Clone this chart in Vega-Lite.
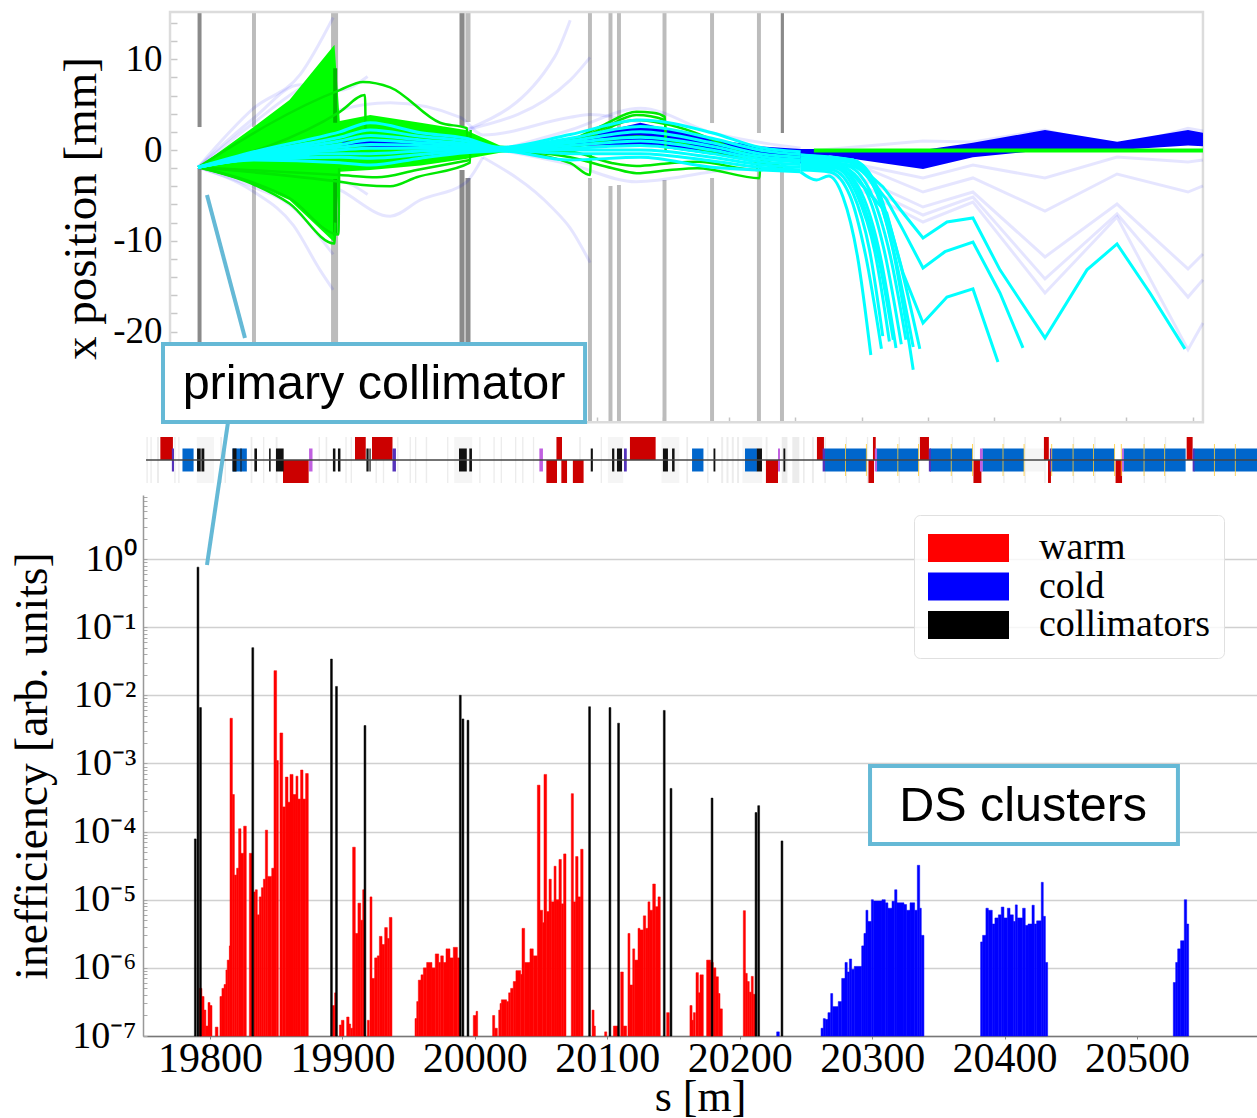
{"$schema":"https://vega.github.io/schema/vega-lite/v6.json","background":"white","padding":{"left":10,"top":3,"right":0,"bottom":0},"config":{"view":{"stroke":null}},"bounds":"flush","spacing":0,
"datasets":{
"jawL":[{"a":19831.7,"b":19834.7,"y":15.2,"y2":2.53},{"a":19831.7,"b":19834.7,"y":-2.42,"y2":-30},{"a":19891.4,"b":19896.7,"y":15.2,"y2":2.75},{"a":19891.4,"b":19896.7,"y":-3.08,"y2":-30},{"a":19992.9,"b":19996.7,"y":15.2,"y2":3.08},{"a":20085.4,"b":20088.4,"y":15.2,"y2":1.98},{"a":20085.4,"b":20088.4,"y":-3.08,"y2":-30},{"a":20100.9,"b":20103.9,"y":15.2,"y2":0.44},{"a":20100.9,"b":20103.9,"y":-3.96,"y2":-30},{"a":20107.3,"b":20110.3,"y":15.2,"y2":0.44},{"a":20107.3,"b":20110.3,"y":-3.85,"y2":-30},{"a":20141.7,"b":20144.7,"y":15.2,"y2":2.75},{"a":20141.7,"b":20144.7,"y":-3.3,"y2":-30},{"a":20177.6,"b":20180.6,"y":15.2,"y2":2.97},{"a":20177.6,"b":20180.6,"y":-3.08,"y2":-30},{"a":20213,"b":20216,"y":15.2,"y2":1.87},{"a":20213,"b":20216,"y":-2.2,"y2":-30},{"a":20230.4,"b":20233.4,"y":-2.2,"y2":-30}],
"jawD":[{"a":19790.6,"b":19793.6,"y":15.2,"y2":2.53},{"a":19790.6,"b":19793.6,"y":-1.98,"y2":-30},{"a":19988.4,"b":19992.2,"y":15.2,"y2":2.64},{"a":19988.4,"b":19992.2,"y":-2.2,"y2":-30},{"a":19992.9,"b":19996.7,"y":-3.08,"y2":-30},{"a":20231,"b":20233.4,"y":15.2,"y2":1.87}],
"ghost":[
{"id":"g1","s":19791,"x":-1.9},{"id":"g1","s":19833,"x":4.6},{"id":"g1","s":19868,"x":8.3},{"id":"g1","s":19893,"x":14.6},
{"id":"g2","s":19791,"x":-1.9},{"id":"g2","s":19833,"x":-4.6},{"id":"g2","s":19863,"x":-8.3},{"id":"g2","s":19883,"x":-13.2},{"id":"g2","s":19893,"x":-15.4},
{"id":"g3","s":19791,"x":-1.9},{"id":"g3","s":19833,"x":3.5},{"id":"g3","s":19868,"x":7.2},{"id":"g3","s":19898,"x":6.6},{"id":"g3","s":19919,"x":8.1},
{"id":"g3b","s":19791,"x":-1.9},{"id":"g3b","s":19833,"x":-3.3},{"id":"g3b","s":19860,"x":-4.5},{"id":"g3b","s":19898,"x":-3.5},{"id":"g3b","s":19919,"x":-4.9},
{"id":"g3c","s":19791,"x":-1.9},{"id":"g3c","s":19833,"x":3},{"id":"g3c","s":19860,"x":6},{"id":"g3c","s":19893,"x":9},
{"id":"g3d","s":19791,"x":-1.9},{"id":"g3d","s":19833,"x":-4.1},{"id":"g3d","s":19860,"x":-6},{"id":"g3d","s":19893,"x":-11.5},
{"id":"g4","s":19791,"x":-1.9},{"id":"g4","s":19860,"x":2},{"id":"g4","s":19898,"x":4.4},{"id":"g4","s":19936,"x":5.2},{"id":"g4","s":19989,"x":3.6},{"id":"g4","s":20006,"x":1.65},{"id":"g4","s":20072,"x":3.6},{"id":"g4","s":20087,"x":3.9},{"id":"g4","s":20125,"x":3},
{"id":"g5","s":19791,"x":-1.9},{"id":"g5","s":19860,"x":-2},{"id":"g5","s":19898,"x":-4.4},{"id":"g5","s":19936,"x":-7.3},{"id":"g5","s":19959,"x":-5.5},{"id":"g5","s":19993,"x":-3.6},{"id":"g5","s":20006,"x":-0.8},
{"id":"g6","s":20006,"x":-0.8},{"id":"g6","s":20058,"x":-6.3},{"id":"g6","s":20072,"x":-8.6},{"id":"g6","s":20087,"x":-12.4},
{"id":"g7","s":19993,"x":2.2},{"id":"g7","s":20060,"x":10.2},{"id":"g7","s":20072,"x":14.3},
{"id":"g7b","s":19993,"x":2.2},{"id":"g7b","s":20072,"x":7.7},{"id":"g7b","s":20087,"x":10.2},
{"id":"g8","s":20019,"x":0},{"id":"g8","s":20072,"x":2.2},{"id":"g8","s":20125,"x":4.6},{"id":"g8","s":20179,"x":1.9},{"id":"g8","s":20246,"x":0.2},
{"id":"g9","s":20019,"x":0},{"id":"g9","s":20072,"x":-1.6},{"id":"g9","s":20122,"x":-3.5},{"id":"g9","s":20179,"x":-2.4},{"id":"g9","s":20246,"x":-1.1}],
"ghostR":[
{"id":"r1","s":20246,"x":-0.55},{"id":"r1","s":20291,"x":-1.65},{"id":"r1","s":20338.4,"x":-3.08},{"id":"r1","s":20376.1,"x":-1.65},{"id":"r1","s":20430.5,"x":-3.08},{"id":"r1","s":20484.9,"x":-0.77},{"id":"r1","s":20538.5,"x":-1.32},{"id":"r1","s":20549.8,"x":-1.1},
{"id":"r2","s":20246,"x":-0.55},{"id":"r2","s":20298,"x":-2.2},{"id":"r2","s":20338.4,"x":-4.63},{"id":"r2","s":20376.1,"x":-3.08},{"id":"r2","s":20430.5,"x":-6.72},{"id":"r2","s":20484.9,"x":-2.64},{"id":"r2","s":20538.5,"x":-4.63},{"id":"r2","s":20549.8,"x":-3.96},
{"id":"r3","s":20246,"x":-0.6},{"id":"r3","s":20291,"x":-3.1},{"id":"r3","s":20338.4,"x":-6.28},{"id":"r3","s":20376.1,"x":-4.63},{"id":"r3","s":20430.5,"x":-11.78},{"id":"r3","s":20484.9,"x":-5.95},{"id":"r3","s":20538.5,"x":-13.1},{"id":"r3","s":20549.8,"x":-11.45},
{"id":"r4","s":20246,"x":-0.7},{"id":"r4","s":20291,"x":-3.85},{"id":"r4","s":20338.4,"x":-7.16},{"id":"r4","s":20376.1,"x":-5.18},{"id":"r4","s":20430.5,"x":-14.2},{"id":"r4","s":20484.9,"x":-7.05},{"id":"r4","s":20538.5,"x":-16.2},{"id":"r4","s":20549.8,"x":-14.3},
{"id":"r5","s":20246,"x":-0.8},{"id":"r5","s":20291,"x":-4.4},{"id":"r5","s":20338.4,"x":-7.93},{"id":"r5","s":20376.1,"x":-5.73},{"id":"r5","s":20430.5,"x":-15.75},{"id":"r5","s":20484.9,"x":-7.38},{"id":"r5","s":20538.5,"x":-22},{"id":"r5","s":20549.8,"x":-19.05},
{"id":"r6","s":20246,"x":-0.2},{"id":"r6","s":20338.4,"x":1},{"id":"r6","s":20376.1,"x":0.88},{"id":"r6","s":20430.5,"x":2.2},{"id":"r6","s":20484.9,"x":0.2},{"id":"r6","s":20538.5,"x":2.4},{"id":"r6","s":20549.8,"x":2.1}],
"blue":[{"g":"a","s":19900,"lo":0.5,"hi":0.9},{"g":"a","s":19930,"lo":0.3,"hi":1.1},{"g":"a","s":19975,"lo":0.3,"hi":1},{"g":"a","s":19995,"lo":0.4,"hi":0.6},
{"g":"b","s":20050,"lo":0.3,"hi":0.5},{"g":"b","s":20072,"lo":0.4,"hi":1.2},{"g":"b","s":20125,"lo":0.6,"hi":3},{"g":"b","s":20179,"lo":-0.5,"hi":1.2},{"g":"b","s":20215,"lo":-0.9,"hi":0.4},{"g":"b","s":20246,"lo":-1.5,"hi":0.1},{"g":"b","s":20268,"lo":-0.6,"hi":0.1},{"g":"b","s":20338.4,"lo":-2.1,"hi":0},{"g":"b","s":20376,"lo":-0.8,"hi":0.8},{"g":"b","s":20430.5,"lo":0,"hi":2.2},{"g":"b","s":20485,"lo":0,"hi":0.9},{"g":"b","s":20538.5,"lo":0.5,"hi":2.2},{"g":"b","s":20549.8,"lo":0.4,"hi":1.9}],
"gfan":[{"s":19791,"lo":-1.9,"hi":-1.9},{"s":19833,"lo":-3.74,"hi":2.53},{"s":19860,"lo":-5.5,"hi":5.5},{"s":19894,"lo":-10.2,"hi":11.6},{"s":19898,"lo":-2.4,"hi":3.2},{"s":19921,"lo":-2.2,"hi":3.85},{"s":19959,"lo":-1.7,"hi":3},{"s":19993,"lo":-1,"hi":2.2},{"s":20019,"lo":-0.3,"hi":0.5},{"s":20035,"lo":-0.1,"hi":0.3}],
"dg":[{"a":19893,"b":19896,"y":9,"y2":3},{"a":19893,"b":19896,"y":-3.2,"y2":-9.4}],
"green":[
{"id":"A","s":19791,"x":-1.9},{"id":"A","s":19898,"x":6.6},{"id":"A","s":19915.5,"x":7.5},{"id":"A","s":19936,"x":6.9},{"id":"A","s":19973.7,"x":3},{"id":"A","s":19994,"x":2.4},{"id":"A","s":19994.4,"x":0.6},
{"id":"B","s":19791,"x":-1.9},{"id":"B","s":19898,"x":4.2},{"id":"B","s":19917,"x":6.05},{"id":"B","s":19917.5,"x":2.2},
{"id":"C","s":19791,"x":-1.9},{"id":"C","s":19898,"x":-3.5},{"id":"C","s":19915.5,"x":-3.85},{"id":"C","s":19936,"x":-4},{"id":"C","s":19956,"x":-3},{"id":"C","s":19996.3,"x":-1.4},{"id":"C","s":19996.8,"x":2.2},
{"id":"D","s":19791,"x":-1.9},{"id":"D","s":19898,"x":-2.75},{"id":"D","s":19926,"x":-3},{"id":"D","s":19956,"x":-2.2},{"id":"D","s":19996.3,"x":-1.1},
{"id":"P","s":19791,"x":-1.9},{"id":"P","s":19833,"x":-3.8},{"id":"P","s":19860,"x":-5.9},{"id":"P","s":19894,"x":-10.3},{"id":"P","s":19894.5,"x":-8},
{"id":"Q","s":19791,"x":-1.9},{"id":"Q","s":19833,"x":-3.6},{"id":"Q","s":19860,"x":-5.3},{"id":"Q","s":19897,"x":-9.3},{"id":"Q","s":19897.5,"x":-2},
{"id":"E","s":20019,"x":0},{"id":"E","s":20072,"x":1.1},{"id":"E","s":20097,"x":2.75},{"id":"E","s":20122,"x":4.2},{"id":"E","s":20134.5,"x":4.1},{"id":"E","s":20143.5,"x":3.65},{"id":"E","s":20144,"x":0},
{"id":"F","s":20019,"x":0},{"id":"F","s":20072,"x":0.9},{"id":"F","s":20097,"x":2.4},{"id":"F","s":20122,"x":3.85},{"id":"F","s":20143.5,"x":3.3},{"id":"F","s":20144.2,"x":1},
{"id":"G","s":20019,"x":0},{"id":"G","s":20072,"x":-0.8},{"id":"G","s":20104,"x":-2},{"id":"G","s":20122,"x":-2.55},{"id":"G","s":20147,"x":-2.2},{"id":"G","s":20168,"x":-2},{"id":"G","s":20215,"x":-3.1},{"id":"G","s":20215.5,"x":-1.65},
{"id":"H","s":20019,"x":0},{"id":"H","s":20072,"x":-0.2},{"id":"H","s":20104,"x":-1.45},{"id":"H","s":20122,"x":-1.75},{"id":"H","s":20147,"x":-1.45},{"id":"H","s":20168,"x":-1.3},{"id":"H","s":20213,"x":-2.2},{"id":"H","s":20213.5,"x":-1.5},
{"id":"I","s":20019,"x":0},{"id":"I","s":20072,"x":-1.45},{"id":"I","s":20087,"x":-2.75},{"id":"I","s":20087.5,"x":-0.55},
{"id":"J","s":20019,"x":0.1},{"id":"J","s":20072,"x":0.7},{"id":"J","s":20122,"x":3.3},{"id":"J","s":20143,"x":2.9},{"id":"J","s":20215,"x":-1},{"id":"J","s":20233,"x":-1.9},
{"id":"K","s":20019,"x":0},{"id":"K","s":20072,"x":0.3},{"id":"K","s":20104,"x":1.2},{"id":"K","s":20122,"x":1.5},{"id":"K","s":20143,"x":1.2},{"id":"K","s":20180,"x":-0.3},{"id":"K","s":20215,"x":-1.4},{"id":"K","s":20233,"x":-2.2}],
"cyanFan":[{"s":19791,"lo":-1.9,"hi":-1.9},{"s":19833,"lo":-1.1,"hi":-0.2},{"s":19860,"lo":-1.1,"hi":0.5},{"s":19875,"lo":-0.9,"hi":0.9}],
"cyan":[
{"id":"a","s":19791,"x":-1.9},{"id":"a","s":19833,"x":-0.2},{"id":"a","s":19898,"x":2},{"id":"a","s":19921,"x":3},{"id":"a","s":19959,"x":1.9},{"id":"a","s":19993,"x":1.3},{"id":"a","s":20019,"x":0.3},{"id":"a","s":20072,"x":1.7},{"id":"a","s":20125,"x":3.3},{"id":"a","s":20179,"x":1.9},{"id":"a","s":20215,"x":0.3},{"id":"a","s":20246,"x":-0.2},
{"id":"b","s":19791,"x":-1.9},{"id":"b","s":19833,"x":-0.4},{"id":"b","s":19898,"x":1.4},{"id":"b","s":19921,"x":2.2},{"id":"b","s":19959,"x":1.5},{"id":"b","s":19993,"x":1},{"id":"b","s":20019,"x":0.2},{"id":"b","s":20072,"x":1.3},{"id":"b","s":20125,"x":2.6},{"id":"b","s":20179,"x":1.3},{"id":"b","s":20215,"x":0},{"id":"b","s":20246,"x":-0.5},
{"id":"c","s":19791,"x":-1.9},{"id":"c","s":19833,"x":-0.5},{"id":"c","s":19898,"x":1},{"id":"c","s":19921,"x":1.6},{"id":"c","s":19959,"x":1.1},{"id":"c","s":19993,"x":0.7},{"id":"c","s":20019,"x":0.2},{"id":"c","s":20072,"x":1},{"id":"c","s":20125,"x":2},{"id":"c","s":20179,"x":0.8},{"id":"c","s":20215,"x":-0.4},{"id":"c","s":20246,"x":-0.8},
{"id":"d","s":19791,"x":-1.9},{"id":"d","s":19833,"x":-0.6},{"id":"d","s":19898,"x":0.6},{"id":"d","s":19921,"x":1.1},{"id":"d","s":19959,"x":0.8},{"id":"d","s":19993,"x":0.5},{"id":"d","s":20019,"x":0.1},{"id":"d","s":20072,"x":0.8},{"id":"d","s":20125,"x":1.4},{"id":"d","s":20179,"x":0.4},{"id":"d","s":20215,"x":-0.7},{"id":"d","s":20246,"x":-1.1},
{"id":"e","s":19791,"x":-1.9},{"id":"e","s":19833,"x":-0.7},{"id":"e","s":19898,"x":0.3},{"id":"e","s":19921,"x":0.6},{"id":"e","s":19959,"x":0.5},{"id":"e","s":19993,"x":0.3},{"id":"e","s":20019,"x":0.1},{"id":"e","s":20072,"x":0.5},{"id":"e","s":20125,"x":1},{"id":"e","s":20179,"x":0},{"id":"e","s":20215,"x":-1},{"id":"e","s":20246,"x":-1.3},
{"id":"f","s":19791,"x":-1.9},{"id":"f","s":19833,"x":-0.8},{"id":"f","s":19898,"x":0},{"id":"f","s":19921,"x":0.2},{"id":"f","s":19959,"x":0.2},{"id":"f","s":19993,"x":0.1},{"id":"f","s":20019,"x":0},{"id":"f","s":20072,"x":0.2},{"id":"f","s":20125,"x":0.5},{"id":"f","s":20179,"x":-0.4},{"id":"f","s":20215,"x":-1.3},{"id":"f","s":20246,"x":-1.6},
{"id":"g","s":19791,"x":-1.9},{"id":"g","s":19833,"x":-0.9},{"id":"g","s":19898,"x":-0.4},{"id":"g","s":19921,"x":-0.4},{"id":"g","s":19959,"x":-0.1},{"id":"g","s":19993,"x":0},{"id":"g","s":20019,"x":0},{"id":"g","s":20072,"x":0},{"id":"g","s":20125,"x":0},{"id":"g","s":20179,"x":-0.8},{"id":"g","s":20215,"x":-1.6},{"id":"g","s":20246,"x":-1.9},
{"id":"h","s":19791,"x":-1.9},{"id":"h","s":19833,"x":-1},{"id":"h","s":19898,"x":-0.8},{"id":"h","s":19921,"x":-0.9},{"id":"h","s":19959,"x":-0.5},{"id":"h","s":19993,"x":-0.1},{"id":"h","s":20019,"x":0},{"id":"h","s":20072,"x":-0.4},{"id":"h","s":20125,"x":-0.4},{"id":"h","s":20179,"x":-1.2},{"id":"h","s":20215,"x":-1.9},{"id":"h","s":20246,"x":-2.2},
{"id":"i","s":19791,"x":-1.9},{"id":"i","s":19833,"x":-1.1},{"id":"i","s":19898,"x":-1.4},{"id":"i","s":19921,"x":-1.65},{"id":"i","s":19959,"x":-0.9},{"id":"i","s":19993,"x":-0.3},{"id":"i","s":20019,"x":-0.1},{"id":"i","s":20072,"x":-1.1},{"id":"i","s":20125,"x":-0.8},{"id":"i","s":20179,"x":-1.9},{"id":"i","s":20215,"x":-2.2},{"id":"i","s":20246,"x":-2.4},
{"id":"c1","s":20246,"x":-2.42},{"id":"c1","s":20258,"x":-3.3},{"id":"c1","s":20267,"x":-2.86},{"id":"c1","s":20278,"x":-5.18},{"id":"c1","s":20289,"x":-11.78},{"id":"c1","s":20299,"x":-22.58},
{"id":"c2","s":20246,"x":-2.2},{"id":"c2","s":20268,"x":-2.42},{"id":"c2","s":20283,"x":-4.96},{"id":"c2","s":20295,"x":-11.56},{"id":"c2","s":20307,"x":-21.9},
{"id":"c3","s":20246,"x":-1.98},{"id":"c3","s":20270,"x":-2.2},{"id":"c3","s":20285.5,"x":-4.74},{"id":"c3","s":20298,"x":-11},{"id":"c3","s":20308,"x":-20.5},
{"id":"c4","s":20246,"x":-1.65},{"id":"c4","s":20274,"x":-1.98},{"id":"c4","s":20292,"x":-4.74},{"id":"c4","s":20306,"x":-11.56},{"id":"c4","s":20318,"x":-21.8},
{"id":"c5","s":20246,"x":-1.43},{"id":"c5","s":20277,"x":-1.87},{"id":"c5","s":20295,"x":-4.4},{"id":"c5","s":20309,"x":-11},{"id":"c5","s":20322,"x":-21.4},
{"id":"c6","s":20246,"x":-1.2},{"id":"c6","s":20279.5,"x":-1.65},{"id":"c6","s":20298,"x":-4.4},{"id":"c6","s":20313.5,"x":-11.56},{"id":"c6","s":20325.5,"x":-20.9},
{"id":"c7","s":20246,"x":-1.1},{"id":"c7","s":20283,"x":-1.65},{"id":"c7","s":20302,"x":-4.18},{"id":"c7","s":20317,"x":-11.56},{"id":"c7","s":20331,"x":-21.7},
{"id":"c8","s":20246,"x":-0.88},{"id":"c8","s":20282,"x":-1.32},{"id":"c8","s":20300.6,"x":-3.85},{"id":"c8","s":20315.7,"x":-11},{"id":"c8","s":20331,"x":-24.2},
{"id":"c9","s":20246,"x":-0.55},{"id":"c9","s":20285.5,"x":-1.1},{"id":"c9","s":20303.6,"x":-4.07},{"id":"c9","s":20321,"x":-12.44},{"id":"c9","s":20336,"x":-21.9},
{"id":"c10","s":20246,"x":-1.87},{"id":"c10","s":20272,"x":-1.98},{"id":"c10","s":20288,"x":-4.74},{"id":"c10","s":20302,"x":-11.2},{"id":"c10","s":20313,"x":-21.1},
{"id":"c11","s":20246,"x":-1.76},{"id":"c11","s":20275,"x":-1.9},{"id":"c11","s":20290,"x":-4.74},{"id":"c11","s":20304,"x":-11.3},{"id":"c11","s":20316,"x":-20.9}],
"cyanL":[
{"id":"L1","s":20246,"x":-0.55},{"id":"L1","s":20285.5,"x":-1.1},{"id":"L1","s":20308.2,"x":-4.07},{"id":"L1","s":20323.3,"x":-6.94},{"id":"L1","s":20338.4,"x":-9.69},{"id":"L1","s":20356.5,"x":-7.93},{"id":"L1","s":20376.1,"x":-7.49},{"id":"L1","s":20396.5,"x":-13.2},{"id":"L1","s":20430.5,"x":-20.7},{"id":"L1","s":20462.2,"x":-13.2},{"id":"L1","s":20484.9,"x":-10.35},{"id":"L1","s":20509.8,"x":-15.75},{"id":"L1","s":20536.2,"x":-21.9},
{"id":"L2","s":20246,"x":-0.88},{"id":"L2","s":20289,"x":-1.32},{"id":"L2","s":20311,"x":-5.5},{"id":"L2","s":20323.3,"x":-8.8},{"id":"L2","s":20338.4,"x":-13},{"id":"L2","s":20355,"x":-11.2},{"id":"L2","s":20376.1,"x":-10.13},{"id":"L2","s":20396.5,"x":-15.75},{"id":"L2","s":20413.9,"x":-21.8},
{"id":"L3","s":20246,"x":-1.1},{"id":"L3","s":20281,"x":-1.98},{"id":"L3","s":20311,"x":-6.94},{"id":"L3","s":20323.3,"x":-13.55},{"id":"L3","s":20338.4,"x":-19.05},{"id":"L3","s":20356.5,"x":-16.2},{"id":"L3","s":20376.1,"x":-15.3},{"id":"L3","s":20395,"x":-23.35}],
"strip":[
{"k":"bw","a":19790,"b":19803,"t":1,"u":-1},{"k":"bw","a":19984.4,"b":19998,"t":1,"u":-1},{"k":"bw","a":20100.4,"b":20112,"t":1,"u":-1},{"k":"bw","a":20140.9,"b":20154.4,"t":1,"u":-1},{"k":"bw","a":20202,"b":20217,"t":1,"u":-1},{"k":"bw","a":20415,"b":20430,"t":0.5,"u":-0.5},
{"k":"bg","a":19752,"b":19753,"t":1,"u":-1},{"k":"bg","a":19755,"b":19756,"t":1,"u":-1},{"k":"bg","a":19760,"b":19761.5,"t":1,"u":-1},{"k":"bg","a":19773,"b":19774,"t":1,"u":-1},{"k":"bg","a":19776,"b":19777,"t":1,"u":-1},{"k":"bg","a":19807.8,"b":19809,"t":1,"u":-1},{"k":"bg","a":19811,"b":19812,"t":1,"u":-1},{"k":"bg","a":19830.7,"b":19832,"t":1,"u":-1},{"k":"bg","a":19840,"b":19841,"t":1,"u":-1},{"k":"bg","a":19849.6,"b":19851,"t":1,"u":-1},{"k":"bg","a":19882,"b":19883,"t":1,"u":-1},{"k":"bg","a":19887.3,"b":19888.5,"t":1,"u":-1},{"k":"bg","a":19902.2,"b":19903.2,"t":1,"u":-1},{"k":"bg","a":19906.2,"b":19907.2,"t":1,"u":-1},{"k":"bg","a":19925,"b":19926,"t":1,"u":-1},{"k":"bg","a":19930.5,"b":19931.5,"t":1,"u":-1},{"k":"bg","a":19941.3,"b":19942.3,"t":1,"u":-1},{"k":"bg","a":19950.7,"b":19951.7,"t":1,"u":-1},{"k":"bg","a":19954.8,"b":19955.8,"t":1,"u":-1},{"k":"bg","a":19962.9,"b":19964,"t":1,"u":-1},{"k":"bg","a":19979,"b":19980,"t":1,"u":-1},{"k":"bg","a":20003.3,"b":20004.3,"t":1,"u":-1},{"k":"bg","a":20014,"b":20015,"t":1,"u":-1},{"k":"bg","a":20019.5,"b":20020.5,"t":1,"u":-1},{"k":"bg","a":20030.3,"b":20031.3,"t":1,"u":-1},{"k":"bg","a":20035.7,"b":20036.7,"t":1,"u":-1},{"k":"bg","a":20043.8,"b":20044.8,"t":1,"u":-1},{"k":"bg","a":20078.8,"b":20080,"t":1,"u":-1},{"k":"bg","a":20095,"b":20096,"t":1,"u":-1},{"k":"bg","a":20159.7,"b":20161,"t":1,"u":-1},{"k":"bg","a":20175.4,"b":20176.4,"t":1,"u":-1},{"k":"bg","a":20186,"b":20187.5,"t":1,"u":-1},{"k":"bg","a":20190,"b":20191.5,"t":1,"u":-1},{"k":"bg","a":20194,"b":20195.5,"t":1,"u":-1},{"k":"bg","a":20198,"b":20199.5,"t":1,"u":-1},{"k":"bg","a":20219.6,"b":20221,"t":1,"u":-1},{"k":"bg","a":20231.7,"b":20236,"t":1,"u":-1},{"k":"bg","a":20239.7,"b":20245,"t":1,"u":-1},{"k":"bg","a":20247.8,"b":20249,"t":1,"u":-1},{"k":"bg","a":20254.5,"b":20256,"t":1,"u":-1},{"k":"bg","a":20263.9,"b":20265,"t":1,"u":-1},{"k":"bg","a":20280,"b":20281,"t":1,"u":-1},{"k":"bg","a":20296,"b":20297,"t":1,"u":-1},{"k":"bg","a":20320,"b":20321,"t":1,"u":-1},{"k":"bg","a":20335,"b":20336,"t":1,"u":-1},{"k":"bg","a":20360,"b":20361,"t":1,"u":-1},{"k":"bg","a":20376.5,"b":20377.5,"t":1,"u":-1},{"k":"bg","a":20399,"b":20400,"t":1,"u":-1},{"k":"bg","a":20415,"b":20416,"t":1,"u":-1},{"k":"bg","a":20430,"b":20431,"t":1,"u":-1},{"k":"bg","a":20451.6,"b":20452.6,"t":1,"u":-1},{"k":"bg","a":20467.7,"b":20468.7,"t":1,"u":-1},{"k":"bg","a":20505,"b":20506,"t":1,"u":-1},{"k":"bg","a":20521,"b":20522,"t":1,"u":-1},
{"k":"mb","a":19779.2,"b":19787.6,"t":0.5,"u":-0.5},{"k":"mb","a":19817,"b":19827.8,"t":0.5,"u":-0.5},{"k":"mb","a":20164,"b":20172.6,"t":0.5,"u":-0.5},{"k":"mb","a":20204,"b":20213,"t":0.5,"u":-0.5},{"k":"mb","a":20264.4,"b":20296.1,"t":0.5,"u":-0.5},{"k":"mb","a":20303.3,"b":20335.2,"t":0.5,"u":-0.5},{"k":"mb","a":20343.7,"b":20376,"t":0.5,"u":-0.5},{"k":"mb","a":20383.2,"b":20414.7,"t":0.5,"u":-0.5},{"k":"mb","a":20435,"b":20483.1,"t":0.5,"u":-0.5},{"k":"mb","a":20489.7,"b":20536.7,"t":0.5,"u":-0.5},{"k":"mb","a":20542.9,"b":20590.6,"t":0.5,"u":-0.5},
{"k":"q","a":19762.5,"b":19772,"t":1,"u":0},{"k":"q","a":19855.1,"b":19874.5,"t":0,"u":-1},{"k":"q","a":19909.5,"b":19917.6,"t":1,"u":0},{"k":"q","a":19922.3,"b":19937.8,"t":1,"u":0},{"k":"q","a":20061.6,"b":20065.8,"t":1,"u":0},{"k":"q","a":20054,"b":20062,"t":0,"u":-1},{"k":"q","a":20065.3,"b":20069.6,"t":0,"u":-1},{"k":"q","a":20074,"b":20082.1,"t":0,"u":-1},{"k":"q","a":20117.1,"b":20136.5,"t":1,"u":0},{"k":"q","a":20219.8,"b":20228.9,"t":0,"u":-1},{"k":"q","a":20258.3,"b":20263.6,"t":1,"u":0},{"k":"q","a":20297.2,"b":20301.4,"t":0,"u":-1},{"k":"q","a":20300.6,"b":20302.7,"t":1,"u":0},{"k":"q","a":20336.1,"b":20342.9,"t":1,"u":0},{"k":"q","a":20376.5,"b":20382.5,"t":0,"u":-1},{"k":"q","a":20429.7,"b":20433.4,"t":1,"u":0},{"k":"q","a":20432.8,"b":20435,"t":0,"u":-1},{"k":"q","a":20483.8,"b":20488.7,"t":0,"u":-1},{"k":"q","a":20537.5,"b":20542,"t":1,"u":0},
{"k":"c","a":19790.2,"b":19793,"t":0.5,"u":-0.5},{"k":"c","a":19793.5,"b":19795.7,"t":0.5,"u":-0.5},{"k":"c","a":19817,"b":19820,"t":0.5,"u":-0.5},{"k":"c","a":19823,"b":19823.8,"t":0.5,"u":-0.5},{"k":"c","a":19833.5,"b":19835.5,"t":0.5,"u":-0.5},{"k":"c","a":19844.6,"b":19845.8,"t":0.5,"u":-0.5},{"k":"c","a":19849.8,"b":19855.6,"t":0.5,"u":-0.5},{"k":"c","a":19892.8,"b":19894.7,"t":0.5,"u":-0.5},{"k":"c","a":19896.6,"b":19898.5,"t":0.5,"u":-0.5},{"k":"c","a":19918.1,"b":19919.8,"t":0.5,"u":-0.5},{"k":"c","a":19920.4,"b":19921.3,"t":0.5,"u":-0.5},{"k":"c","a":19988,"b":19993.9,"t":0.5,"u":-0.5},{"k":"c","a":19995.8,"b":19997.8,"t":0.5,"u":-0.5},{"k":"c","a":20087.5,"b":20089.1,"t":0.5,"u":-0.5},{"k":"c","a":20103.6,"b":20105.3,"t":0.5,"u":-0.5},{"k":"c","a":20107.3,"b":20111.1,"t":0.5,"u":-0.5},{"k":"c","a":20142,"b":20145.8,"t":0.5,"u":-0.5},{"k":"c","a":20148.9,"b":20150.8,"t":0.5,"u":-0.5},{"k":"c","a":20180.2,"b":20181.6,"t":0.5,"u":-0.5},{"k":"c","a":20212.9,"b":20216.8,"t":0.5,"u":-0.5},{"k":"c","a":20233,"b":20234.4,"t":0.5,"u":-0.5},
{"k":"p","a":19771.2,"b":19772.8,"t":0.5,"u":-0.5},{"k":"p","a":19937.8,"b":19940.4,"t":0.5,"u":-0.5},{"k":"p","a":20112.6,"b":20114.7,"t":0.5,"u":-0.5},{"k":"p","a":20262.6,"b":20264.4,"t":0.5,"u":-0.5},{"k":"p","a":20342.8,"b":20344.4,"t":0.5,"u":-0.5},{"k":"p","a":20434.2,"b":20435.6,"t":0.5,"u":-0.5},{"k":"p","a":20542,"b":20543.4,"t":0.5,"u":-0.5},
{"k":"lp","a":19874.8,"b":19877.4,"t":0.5,"u":-0.5},{"k":"lp","a":20048.7,"b":20051.4,"t":0.5,"u":-0.5},{"k":"lp","a":20228.9,"b":20230.4,"t":0.5,"u":-0.5},{"k":"lp","a":20302,"b":20303.7,"t":0.5,"u":-0.5},{"k":"lp","a":20381.4,"b":20383.5,"t":0.5,"u":-0.5},{"k":"lp","a":20488.7,"b":20490,"t":0.5,"u":-0.5},
{"k":"y","a":20279.6,"b":20280.2,"t":0.7,"u":-0.7},{"k":"y","a":20295.3,"b":20295.9,"t":0.7,"u":-0.7},{"k":"y","a":20319.1,"b":20319.7,"t":0.7,"u":-0.7},{"k":"y","a":20334.7,"b":20335.3,"t":0.7,"u":-0.7},{"k":"y","a":20359.4,"b":20360,"t":0.7,"u":-0.7},{"k":"y","a":20375.5,"b":20376.1,"t":0.7,"u":-0.7},{"k":"y","a":20398.5,"b":20399.1,"t":0.7,"u":-0.7},{"k":"y","a":20414.4,"b":20415,"t":0.7,"u":-0.7},{"k":"y","a":20435.3,"b":20435.9,"t":0.7,"u":-0.7},{"k":"y","a":20451.4,"b":20452,"t":0.7,"u":-0.7},{"k":"y","a":20466.9,"b":20467.5,"t":0.7,"u":-0.7},{"k":"y","a":20482.8,"b":20483.4,"t":0.7,"u":-0.7},{"k":"y","a":20487.8,"b":20488.4,"t":0.7,"u":-0.7},{"k":"y","a":20505,"b":20505.6,"t":0.7,"u":-0.7},{"k":"y","a":20520.6,"b":20521.2,"t":0.7,"u":-0.7},{"k":"y","a":20558.1,"b":20558.7,"t":0.7,"u":-0.7},{"k":"y","a":20573.9,"b":20574.5,"t":0.7,"u":-0.7}],
"bars":[
{"a":19791.9,"b":19793.9,"v":5e-7,"k":"warm"},{"a":19793.9,"b":19795.5,"v":3.8e-7,"k":"warm"},{"a":19795.5,"b":19796.9,"v":2.4e-7,"k":"warm"},{"a":19796.9,"b":19798.5,"v":1.4e-7,"k":"warm"},{"a":19798.5,"b":19800,"v":3.1e-7,"k":"warm"},{"a":19800,"b":19801.5,"v":2.8e-7,"k":"warm"},{"a":19804,"b":19806,"v":1.35e-7,"k":"warm"},{"a":19807.5,"b":19809,"v":3.8e-7,"k":"warm"},{"a":19809,"b":19810.6,"v":5e-7,"k":"warm"},{"a":19810.6,"b":19812,"v":5.7e-7,"k":"warm"},{"a":19812,"b":19813,"v":9.3e-7,"k":"warm"},{"a":19813,"b":19814.6,"v":1.3e-6,"k":"warm"},{"a":19814.6,"b":19815.1,"v":2.1e-6,"k":"warm"},{"a":19815.1,"b":19816.9,"v":4.6e-3,"k":"warm"},{"a":19816.9,"b":19818.4,"v":3.5e-4,"k":"warm"},{"a":19818.4,"b":19820.1,"v":2.3e-5,"k":"warm"},{"a":19820.1,"b":19821.6,"v":2.9e-5,"k":"warm"},{"a":19821.6,"b":19823.4,"v":1.1e-4,"k":"warm"},{"a":19823.4,"b":19825.4,"v":4.8e-5,"k":"warm"},{"a":19825.4,"b":19827.4,"v":1.2e-4,"k":"warm"},{"a":19829.7,"b":19831.7,"v":4.8e-5,"k":"warm"},{"a":19833,"b":19834.2,"v":1.3e-5,"k":"warm"},{"a":19834.2,"b":19835.7,"v":1.4e-5,"k":"warm"},{"a":19835.7,"b":19837.2,"v":6e-6,"k":"warm"},{"a":19837.2,"b":19838.8,"v":1.1e-5,"k":"warm"},{"a":19838.8,"b":19840.3,"v":1.5e-5,"k":"warm"},{"a":19840.3,"b":19841.8,"v":2e-5,"k":"warm"},{"a":19841.8,"b":19843.5,"v":1.05e-4,"k":"warm"},{"a":19843.5,"b":19846.6,"v":2.2e-5,"k":"warm"},{"a":19846.6,"b":19848.3,"v":2.9e-5,"k":"warm"},{"a":19848.3,"b":19850.3,"v":2.3e-2,"k":"warm"},{"a":19850.3,"b":19851.6,"v":1.1e-3,"k":"warm"},{"a":19852.8,"b":19854.9,"v":2.8e-3,"k":"warm"},{"a":19854.9,"b":19856.9,"v":2.3e-4,"k":"warm"},{"a":19856.9,"b":19858.9,"v":6.3e-4,"k":"warm"},{"a":19858.9,"b":19860.4,"v":2.7e-4,"k":"warm"},{"a":19860.4,"b":19862.7,"v":6.9e-4,"k":"warm"},{"a":19862.7,"b":19864.9,"v":3.5e-4,"k":"warm"},{"a":19864.9,"b":19866.4,"v":6.5e-4,"k":"warm"},{"a":19866.4,"b":19868.4,"v":3e-4,"k":"warm"},{"a":19868.4,"b":19870.2,"v":8e-4,"k":"warm"},{"a":19870.2,"b":19872.2,"v":3e-4,"k":"warm"},{"a":19872.2,"b":19874.2,"v":7.1e-4,"k":"warm"},
{"a":19892.4,"b":19894.1,"v":2.8e-7,"k":"warm"},{"a":19894.1,"b":19895.6,"v":4.3e-7,"k":"warm"},{"a":19897.7,"b":19899.2,"v":1.45e-7,"k":"warm"},{"a":19899.2,"b":19901.2,"v":1.7e-7,"k":"warm"},{"a":19903.2,"b":19905,"v":1.9e-7,"k":"warm"},{"a":19905,"b":19906.2,"v":1.5e-7,"k":"warm"},{"a":19906.2,"b":19907.7,"v":1.3e-7,"k":"warm"},{"a":19907.7,"b":19909.7,"v":5.9e-5,"k":"warm"},{"a":19909.7,"b":19911.7,"v":3.2e-6,"k":"warm"},{"a":19911.7,"b":19913.8,"v":8.9e-6,"k":"warm"},{"a":19913.8,"b":19915.3,"v":5e-6,"k":"warm"},{"a":19915.3,"b":19916.3,"v":1.4e-5,"k":"warm"},{"a":19918.8,"b":19920.3,"v":1.7e-7,"k":"warm"},{"a":19920.8,"b":19922.3,"v":1.1e-5,"k":"warm"},{"a":19922.3,"b":19924.3,"v":7e-7,"k":"warm"},{"a":19924.3,"b":19926.3,"v":1.4e-6,"k":"warm"},{"a":19926.3,"b":19927.9,"v":1.5e-6,"k":"warm"},{"a":19927.9,"b":19929.9,"v":2.9e-6,"k":"warm"},{"a":19929.9,"b":19931.9,"v":2.2e-6,"k":"warm"},{"a":19931.9,"b":19933.9,"v":3.9e-6,"k":"warm"},{"a":19933.9,"b":19935.4,"v":2.7e-6,"k":"warm"},{"a":19935.4,"b":19937.4,"v":5.5e-6,"k":"warm"},
{"a":19954.8,"b":19956.1,"v":1.8e-7,"k":"warm"},{"a":19956.1,"b":19957.3,"v":3.2e-7,"k":"warm"},{"a":19957.3,"b":19959.3,"v":6.6e-7,"k":"warm"},{"a":19959.3,"b":19961.1,"v":7.9e-7,"k":"warm"},{"a":19961.1,"b":19963.6,"v":1e-6,"k":"warm"},{"a":19963.6,"b":19967.6,"v":1.2e-6,"k":"warm"},{"a":19967.6,"b":19970.1,"v":1e-6,"k":"warm"},{"a":19970.1,"b":19972.7,"v":1.6e-6,"k":"warm"},{"a":19972.7,"b":19974.2,"v":1.2e-6,"k":"warm"},{"a":19974.2,"b":19976.2,"v":1.5e-6,"k":"warm"},{"a":19976.2,"b":19978.2,"v":1.2e-6,"k":"warm"},{"a":19978.2,"b":19981.2,"v":1.9e-6,"k":"warm"},{"a":19981.2,"b":19983.7,"v":1.4e-6,"k":"warm"},{"a":19983.7,"b":19986.8,"v":2e-6,"k":"warm"},{"a":19986.8,"b":19988.8,"v":1.4e-6,"k":"warm"},{"a":19998.8,"b":20000.9,"v":2e-7,"k":"warm"},{"a":20000.9,"b":20002.1,"v":2.3e-7,"k":"warm"},
{"a":20013.4,"b":20015,"v":2e-7,"k":"warm"},{"a":20015,"b":20017,"v":1.3e-7,"k":"warm"},{"a":20018,"b":20019,"v":2.4e-7,"k":"warm"},{"a":20019,"b":20020,"v":3e-7,"k":"warm"},{"a":20020,"b":20024,"v":3.4e-7,"k":"warm"},{"a":20024,"b":20025.5,"v":3.2e-7,"k":"warm"},{"a":20025.5,"b":20027,"v":4.3e-7,"k":"warm"},{"a":20027,"b":20029,"v":5e-7,"k":"warm"},{"a":20029,"b":20031,"v":6.3e-7,"k":"warm"},{"a":20031,"b":20034.6,"v":9.1e-7,"k":"warm"},{"a":20034.6,"b":20035.6,"v":8e-7,"k":"warm"},{"a":20035.6,"b":20037.6,"v":3.8e-6,"k":"warm"},{"a":20037.6,"b":20041.6,"v":1.2e-6,"k":"warm"},{"a":20041.6,"b":20044.1,"v":1.9e-6,"k":"warm"},{"a":20044.1,"b":20047.2,"v":1.5e-6,"k":"warm"},{"a":20047.2,"b":20049.2,"v":4.8e-4,"k":"warm"},{"a":20049.2,"b":20051.2,"v":7e-6,"k":"warm"},{"a":20051.2,"b":20052.2,"v":4.6e-6,"k":"warm"},{"a":20052.2,"b":20054.2,"v":6.9e-4,"k":"warm"},{"a":20054.2,"b":20056,"v":6.7e-6,"k":"warm"},{"a":20056,"b":20057.7,"v":2e-5,"k":"warm"},{"a":20057.7,"b":20059.8,"v":9.3e-6,"k":"warm"},{"a":20059.8,"b":20061.3,"v":3.1e-5,"k":"warm"},{"a":20061.3,"b":20063.5,"v":1e-5,"k":"warm"},{"a":20063.5,"b":20065.3,"v":3.9e-5,"k":"warm"},{"a":20065.3,"b":20067,"v":8.7e-6,"k":"warm"},{"a":20067,"b":20068.8,"v":4.7e-5,"k":"warm"},{"a":20072.8,"b":20074.4,"v":3.6e-4,"k":"warm"},{"a":20074.4,"b":20076.1,"v":9.3e-6,"k":"warm"},{"a":20076.1,"b":20077.9,"v":4.3e-5,"k":"warm"},{"a":20077.9,"b":20079.9,"v":1.1e-5,"k":"warm"},{"a":20079.9,"b":20081.7,"v":5.5e-5,"k":"warm"},
{"a":20088.5,"b":20090,"v":2.4e-7,"k":"warm"},{"a":20090,"b":20091,"v":1.4e-7,"k":"warm"},{"a":20098,"b":20099.6,"v":1.15e-7,"k":"warm"},{"a":20104.6,"b":20108.1,"v":1.4e-7,"k":"warm"},{"a":20110.1,"b":20112.1,"v":8.7e-7,"k":"warm"},{"a":20112.1,"b":20114.6,"v":1.4e-7,"k":"warm"},{"a":20115.6,"b":20117.1,"v":3.2e-6,"k":"warm"},{"a":20117.1,"b":20119.2,"v":5.6e-7,"k":"warm"},{"a":20119.2,"b":20120.7,"v":1.9e-6,"k":"warm"},{"a":20120.7,"b":20123.2,"v":1.3e-6,"k":"warm"},{"a":20123.2,"b":20124.7,"v":3.8e-6,"k":"warm"},{"a":20124.7,"b":20127.2,"v":3.6e-6,"k":"warm"},{"a":20127.2,"b":20129,"v":5.8e-6,"k":"warm"},{"a":20129,"b":20130.7,"v":3.8e-6,"k":"warm"},{"a":20130.7,"b":20132.2,"v":9.3e-6,"k":"warm"},{"a":20132.2,"b":20134.3,"v":7e-6,"k":"warm"},{"a":20134.3,"b":20136.3,"v":1.7e-5,"k":"warm"},{"a":20136.3,"b":20138.3,"v":7.9e-6,"k":"warm"},{"a":20138.3,"b":20140,"v":1.1e-5,"k":"warm"},{"a":20144.8,"b":20146.8,"v":2.2e-7,"k":"warm"},
{"a":20162.4,"b":20164,"v":2.8e-7,"k":"warm"},{"a":20164,"b":20165,"v":1.7e-7,"k":"warm"},{"a":20165,"b":20166.5,"v":2.2e-7,"k":"warm"},{"a":20167,"b":20168.8,"v":8.5e-7,"k":"warm"},{"a":20168.8,"b":20170,"v":4.3e-7,"k":"warm"},{"a":20170,"b":20172.5,"v":7.9e-7,"k":"warm"},{"a":20175,"b":20178,"v":1.3e-6,"k":"warm"},{"a":20178,"b":20180,"v":1.2e-6,"k":"warm"},{"a":20180,"b":20182,"v":1e-6,"k":"warm"},{"a":20182,"b":20183.9,"v":7.4e-7,"k":"warm"},{"a":20183.9,"b":20185.1,"v":4.2e-7,"k":"warm"},{"a":20185.1,"b":20186.9,"v":2.5e-7,"k":"warm"},
{"a":20202.7,"b":20204.3,"v":6.9e-6,"k":"warm"},{"a":20204.3,"b":20205.7,"v":8.3e-7,"k":"warm"},{"a":20205.7,"b":20207.2,"v":6.3e-7,"k":"warm"},{"a":20207.2,"b":20208.7,"v":4.4e-7,"k":"warm"},{"a":20208.7,"b":20210.2,"v":7.5e-7,"k":"warm"},{"a":20210.2,"b":20212.2,"v":4.1e-7,"k":"warm"},
{"a":20227.9,"b":20229.9,"v":1.15e-7,"k":"cold"},
{"a":20261.4,"b":20263.1,"v":1.3e-7,"k":"cold"},{"a":20263.1,"b":20264.6,"v":1.8e-7,"k":"cold"},{"a":20264.6,"b":20266.6,"v":1.75e-7,"k":"cold"},{"a":20266.6,"b":20268.7,"v":2.2e-7,"k":"cold"},{"a":20268.7,"b":20270.2,"v":4.2e-7,"k":"cold"},{"a":20270.2,"b":20274.4,"v":2.7e-7,"k":"cold"},{"a":20274.4,"b":20277,"v":3.2e-7,"k":"cold"},{"a":20277,"b":20279.5,"v":7e-7,"k":"cold"},{"a":20279.5,"b":20281.2,"v":1.2e-6,"k":"cold"},{"a":20281.2,"b":20282.8,"v":8.7e-7,"k":"cold"},{"a":20282.8,"b":20284.5,"v":1.35e-6,"k":"cold"},{"a":20284.5,"b":20286.5,"v":9.5e-7,"k":"cold"},{"a":20286.5,"b":20292.1,"v":1.05e-6,"k":"cold"},{"a":20292.1,"b":20293.8,"v":2.1e-6,"k":"cold"},{"a":20293.8,"b":20295.3,"v":3.2e-6,"k":"cold"},{"a":20295.3,"b":20296.8,"v":7e-6,"k":"cold"},{"a":20296.8,"b":20299.4,"v":4.8e-6,"k":"cold"},{"a":20299.4,"b":20300.9,"v":1e-5,"k":"cold"},{"a":20300.9,"b":20307.4,"v":9.6e-6,"k":"cold"},{"a":20307.4,"b":20309.9,"v":1e-5,"k":"cold"},{"a":20309.9,"b":20311.9,"v":9e-6,"k":"cold"},{"a":20311.9,"b":20315,"v":7.5e-6,"k":"cold"},{"a":20315,"b":20317,"v":9.5e-6,"k":"cold"},{"a":20317,"b":20318.7,"v":1.4e-5,"k":"cold"},{"a":20318.7,"b":20324,"v":9e-6,"k":"cold"},{"a":20324,"b":20326,"v":8.5e-6,"k":"cold"},{"a":20326,"b":20328.6,"v":7e-6,"k":"cold"},{"a":20328.6,"b":20332.1,"v":9e-6,"k":"cold"},{"a":20332.1,"b":20334.1,"v":7e-6,"k":"cold"},{"a":20334.1,"b":20335.9,"v":3.2e-5,"k":"cold"},{"a":20335.9,"b":20337.1,"v":7.5e-6,"k":"cold"},{"a":20337.1,"b":20339.1,"v":3e-6,"k":"cold"},
{"a":20381.9,"b":20383.4,"v":2.4e-6,"k":"cold"},{"a":20383.4,"b":20385.9,"v":3e-6,"k":"cold"},{"a":20385.9,"b":20387.7,"v":7.5e-6,"k":"cold"},{"a":20387.7,"b":20390.7,"v":7e-6,"k":"cold"},{"a":20390.7,"b":20392.7,"v":4.4e-6,"k":"cold"},{"a":20392.7,"b":20395.3,"v":5.4e-6,"k":"cold"},{"a":20395.3,"b":20397.5,"v":6e-6,"k":"cold"},{"a":20397.5,"b":20399.5,"v":7.8e-6,"k":"cold"},{"a":20399.5,"b":20402.1,"v":5.4e-6,"k":"cold"},{"a":20402.1,"b":20404.1,"v":7.5e-6,"k":"cold"},{"a":20404.1,"b":20406.6,"v":6e-6,"k":"cold"},{"a":20406.6,"b":20408.1,"v":4.8e-6,"k":"cold"},{"a":20408.1,"b":20409.6,"v":8.4e-6,"k":"cold"},{"a":20409.6,"b":20413.6,"v":5.4e-6,"k":"cold"},{"a":20413.6,"b":20415.6,"v":7.5e-6,"k":"cold"},{"a":20415.6,"b":20417.7,"v":4.2e-6,"k":"cold"},{"a":20417.7,"b":20420.7,"v":4.4e-6,"k":"cold"},{"a":20420.7,"b":20422.4,"v":8.3e-6,"k":"cold"},{"a":20422.4,"b":20424.2,"v":4.4e-6,"k":"cold"},{"a":20424.2,"b":20427.7,"v":4.9e-6,"k":"cold"},{"a":20427.7,"b":20429.2,"v":1.8e-5,"k":"cold"},{"a":20429.2,"b":20430.8,"v":5.7e-6,"k":"cold"},{"a":20430.8,"b":20432.5,"v":1.2e-6,"k":"cold"},
{"a":20527.4,"b":20529.2,"v":6.1e-7,"k":"cold"},{"a":20529.2,"b":20530.7,"v":1.2e-6,"k":"cold"},{"a":20530.7,"b":20532.9,"v":1.9e-6,"k":"cold"},{"a":20532.9,"b":20535.7,"v":2.5e-6,"k":"cold"},{"a":20535.7,"b":20537.5,"v":1e-5,"k":"cold"},{"a":20537.5,"b":20539,"v":4.4e-6,"k":"cold"},
{"a":19788.2,"b":19789.6,"v":7.8e-5,"k":"collimators"},{"a":19790.2,"b":19791.6,"v":0.76,"k":"collimators"},{"a":19792.1,"b":19793.5,"v":6.6e-3,"k":"collimators"},{"a":19831.6,"b":19833,"v":5e-2,"k":"collimators"},{"a":19891,"b":19892.4,"v":3.4e-2,"k":"collimators"},{"a":19894.8,"b":19896.2,"v":1.35e-2,"k":"collimators"},{"a":19916.3,"b":19917.7,"v":3.6e-3,"k":"collimators"},{"a":19988.3,"b":19989.7,"v":1e-2,"k":"collimators"},{"a":19990.3,"b":19991.7,"v":4.5e-3,"k":"collimators"},{"a":19994.1,"b":19995.5,"v":4.3e-3,"k":"collimators"},{"a":20085.9,"b":20087.3,"v":6.8e-3,"k":"collimators"},{"a":20101.3,"b":20102.7,"v":6.6e-3,"k":"collimators"},{"a":20107.8,"b":20109.2,"v":3.9e-3,"k":"collimators"},{"a":20142.3,"b":20143.7,"v":6e-3,"k":"collimators"},{"a":20147.4,"b":20148.8,"v":4.3e-4,"k":"collimators"},{"a":20178.4,"b":20179.8,"v":3.1e-4,"k":"collimators"},{"a":20211.6,"b":20213,"v":1.9e-4,"k":"collimators"},{"a":20213.6,"b":20215,"v":2.4e-4,"k":"collimators"},{"a":20231.2,"b":20232.6,"v":7.3e-5,"k":"collimators"}]
},
"vconcat":[
{"width":1114,"height":418,"layer":[
{"data":{"name":"jawL"},"mark":{"type":"rect","color":"#bcbcbc"},"encoding":{"x":{"field":"a","type":"quantitative","scale":{"domain":[19749.4,20590.6]},"axis":{"title":null,"values":[20092,20142,20192,20242,20292,20342,20392,20442,20492,20542],"tickCount":50,"labels":false,"domain":false,"grid":false,"ticks":true,"tickSize":-5,"tickColor":"#c4c4c4","tickWidth":1.5,"offset":-8}},"x2":{"field":"b"},"y":{"field":"y","type":"quantitative","scale":{"domain":[-30.84,15.2]},"axis":{"title":"x position [mm]","titleFont":"Liberation Serif","titleFontSize":47,"titleFontWeight":"normal","titleColor":"#000","titleX":-65,"titleY":196,"values":[-30,-28,-26,-24,-22,-20,-18,-16,-14,-12,-10,-8,-6,-4,-2,0,2,4,6,8,10,12,14],"tickCount":100,"labelExpr":"datum.value==10||datum.value==0||datum.value==-10||datum.value==-20?''+datum.value:''","labelFont":"Liberation Serif","labelFontSize":37,"labelColor":"#000","labelOverlap":false,"labelPadding":15,"grid":false,"domain":false,"tickSize":-7,"tickColor":"#c8c8c8","tickWidth":1.5,"offset":-27}},"y2":{"field":"y2"}}},
{"data":{"name":"jawD"},"mark":{"type":"rect","color":"#8a8a8a"},"encoding":{"x":{"field":"a","type":"quantitative","scale":{"domain":[19749.4,20590.6]}},"x2":{"field":"b"},"y":{"field":"y","type":"quantitative","scale":{"domain":[-30.84,15.2]}},"y2":{"field":"y2"}}},
{"data":{"values":[{"a":19769.8,"b":20549.8,"y":15.2,"y2":-30}]},"mark":{"type":"rect","filled":false,"stroke":"#dcdcdc","strokeWidth":2.5},"encoding":{"x":{"field":"a","type":"quantitative","scale":{"domain":[19749.4,20590.6]}},"x2":{"field":"b"},"y":{"field":"y","type":"quantitative","scale":{"domain":[-30.84,15.2]}},"y2":{"field":"y2"}}},
{"data":{"name":"ghost"},"mark":{"type":"line","color":"#0000ff","opacity":0.1,"strokeWidth":3,"interpolate":"monotone"},"encoding":{"detail":{"field":"id"},"x":{"field":"s","type":"quantitative","scale":{"domain":[19749.4,20590.6]}},"y":{"field":"x","type":"quantitative","scale":{"domain":[-30.84,15.2]}}}},
{"data":{"name":"ghostR"},"mark":{"type":"line","color":"#0000ff","opacity":0.1,"strokeWidth":3},"encoding":{"detail":{"field":"id"},"x":{"field":"s","type":"quantitative","scale":{"domain":[19749.4,20590.6]}},"y":{"field":"x","type":"quantitative","scale":{"domain":[-30.84,15.2]}}}},
{"data":{"name":"gfan"},"mark":{"type":"area","color":"#00ff00"},"encoding":{"x":{"field":"s","type":"quantitative","scale":{"domain":[19749.4,20590.6]}},"y":{"field":"lo","type":"quantitative","scale":{"domain":[-30.84,15.2]}},"y2":{"field":"hi"}}},
{"data":{"name":"dg"},"mark":{"type":"rect","color":"#00b800"},"encoding":{"x":{"field":"a","type":"quantitative","scale":{"domain":[19749.4,20590.6]}},"x2":{"field":"b"},"y":{"field":"y","type":"quantitative","scale":{"domain":[-30.84,15.2]}},"y2":{"field":"y2"}}},
{"data":{"name":"blue"},"mark":{"type":"area","color":"#0000ff"},"encoding":{"detail":{"field":"g"},"x":{"field":"s","type":"quantitative","scale":{"domain":[19749.4,20590.6]}},"y":{"field":"lo","type":"quantitative","scale":{"domain":[-30.84,15.2]}},"y2":{"field":"hi"}}},
{"data":{"name":"green"},"mark":{"type":"line","color":"#00e800","strokeWidth":2.5,"interpolate":"monotone"},"encoding":{"detail":{"field":"id"},"x":{"field":"s","type":"quantitative","scale":{"domain":[19749.4,20590.6]}},"y":{"field":"x","type":"quantitative","scale":{"domain":[-30.84,15.2]}}}},
{"data":{"values":[{"s":20256,"x":-0.05},{"s":20549.8,"x":-0.05}]},"mark":{"type":"line","color":"#00ff00","strokeWidth":4},"encoding":{"x":{"field":"s","type":"quantitative","scale":{"domain":[19749.4,20590.6]}},"y":{"field":"x","type":"quantitative","scale":{"domain":[-30.84,15.2]}}}},
{"data":{"name":"cyanFan"},"mark":{"type":"area","color":"#00ffff"},"encoding":{"x":{"field":"s","type":"quantitative","scale":{"domain":[19749.4,20590.6]}},"y":{"field":"lo","type":"quantitative","scale":{"domain":[-30.84,15.2]}},"y2":{"field":"hi"}}},
{"data":{"name":"cyan"},"mark":{"type":"line","color":"#00ffff","strokeWidth":3,"interpolate":"monotone"},"encoding":{"detail":{"field":"id"},"x":{"field":"s","type":"quantitative","scale":{"domain":[19749.4,20590.6]}},"y":{"field":"x","type":"quantitative","scale":{"domain":[-30.84,15.2]}}}},
{"data":{"name":"cyanL"},"mark":{"type":"line","color":"#00ffff","strokeWidth":3},"encoding":{"detail":{"field":"id"},"x":{"field":"s","type":"quantitative","scale":{"domain":[19749.4,20590.6]}},"y":{"field":"x","type":"quantitative","scale":{"domain":[-30.84,15.2]}}}},
{"data":{"values":[{"s":19797.7,"x":-4.96},{"s":19826.4,"x":-20.7}]},"mark":{"type":"line","color":"#65b9d6","strokeWidth":4},"encoding":{"x":{"field":"s","type":"quantitative","scale":{"domain":[19749.4,20590.6]}},"y":{"field":"x","type":"quantitative","scale":{"domain":[-30.84,15.2]}}}},
{"data":{"values":[{"a":19764.5,"b":20083.2,"y":-21.37,"y2":-29.96}]},"mark":{"type":"rect","fill":"white","stroke":"#65b9d6","strokeWidth":4},"encoding":{"x":{"field":"a","type":"quantitative","scale":{"domain":[19749.4,20590.6]}},"x2":{"field":"b"},"y":{"field":"y","type":"quantitative","scale":{"domain":[-30.84,15.2]}},"y2":{"field":"y2"}}},
{"data":{"values":[{"m":19923.8,"t":-25.8,"label":"primary collimator"}]},"mark":{"type":"text","font":"Liberation Sans","fontSize":48.5,"color":"#000","align":"center","baseline":"middle"},"encoding":{"x":{"field":"m","type":"quantitative","scale":{"domain":[19749.4,20590.6]}},"y":{"field":"t","type":"quantitative","scale":{"domain":[-30.84,15.2]}},"text":{"field":"label"}}}
]},
{"width":1114,"height":65,"layer":[
{"data":{"name":"strip"},"mark":{"type":"rect"},"encoding":{"x":{"field":"a","type":"quantitative","scale":{"domain":[19749.4,20590.6]},"axis":null},"x2":{"field":"b"},"y":{"field":"t","type":"quantitative","scale":{"domain":[-1.522,1.304]},"axis":null},"y2":{"field":"u"},"color":{"field":"k","type":"nominal","legend":null,"scale":{"domain":["bw","bg","mb","q","c","p","lp","y"],"range":["#f5f5f5","#ececec","#0066cc","#cc0000","#111111","#5533bb","#c060e0","#ffcc33"]}}}},
{"data":{"values":[{"a":19751.7,"b":20590.6,"y":0}]},"mark":{"type":"rule","color":"#444444","strokeWidth":1.5},"encoding":{"x":{"field":"a","type":"quantitative","scale":{"domain":[19749.4,20590.6]},"axis":null},"x2":{"field":"b"},"y":{"field":"y","type":"quantitative","scale":{"domain":[-1.522,1.304]},"axis":null}}}
]},
{"width":1114,"height":541,"layer":[
{"data":{"name":"bars"},"mark":{"type":"rect","strokeWidth":0.5},"encoding":{"x":{"field":"a","type":"quantitative","scale":{"domain":[19749.4,20590.6]},"axis":{"title":"s [m]","titleFont":"Liberation Serif","titleFontSize":44,"titleFontWeight":"normal","titleColor":"#000","titlePadding":-4,"values":[19800,19900,20000,20100,20200,20300,20400,20500],"format":"d","labelFont":"Liberation Serif","labelFontSize":42,"labelColor":"#000","labelPadding":-1,"labelFlush":false,"labelOverlap":false,"grid":false,"domainColor":"#777777","domainWidth":1.5,"tickColor":"#888888","tickSize":3}},"x2":{"field":"b"},"y":{"field":"v","type":"quantitative","scale":{"type":"log","domain":[1e-7,8.7]},"axis":{"title":"inefficiency [arb. units]","titleFont":"Liberation Serif","titleFontSize":45.5,"titleFontWeight":"normal","titleColor":"#000","titlePadding":15,"values":[1e-7,2e-7,3e-7,4e-7,5e-7,6e-7,7e-7,8e-7,9e-7,1e-6,2e-6,3e-6,4e-6,5e-6,6e-6,7e-6,8e-6,9e-6,1e-5,2e-5,3e-5,4e-5,5e-5,6e-5,7e-5,8e-5,9e-5,1e-4,2e-4,3e-4,4e-4,5e-4,6e-4,7e-4,8e-4,9e-4,1e-3,2e-3,3e-3,4e-3,5e-3,6e-3,7e-3,8e-3,9e-3,1e-2,2e-2,3e-2,4e-2,5e-2,6e-2,7e-2,8e-2,9e-2,0.1,0.2,0.3,0.4,0.5,0.6,0.7,0.8,0.9,1,2,3,4,5,6,7,8],"tickCount":200,"labelExpr":"abs(log(datum.value)/LN10-round(log(datum.value)/LN10))<0.001?'10'+['⁰','⁻¹','⁻²','⁻³','⁻⁴','⁻⁵','⁻⁶','⁻⁷'][-round(log(datum.value)/LN10)]:''","labelFont":"Liberation Serif","labelFontSize":38,"labelColor":"#000","labelOverlap":false,"labelFlush":false,"labelPadding":11,"grid":true,"gridColor":"#d0d0d0","gridWidth":1.5,"gridOpacity":{"condition":{"test":"abs(log(datum.value)/LN10-round(log(datum.value)/LN10))<0.001","value":1},"value":0},"domainColor":"#999999","domainWidth":1.5,"tickColor":"#aaaaaa","tickSize":-4}},"y2":{"datum":1e-7},"color":{"field":"k","type":"nominal","scale":{"domain":["warm","cold","collimators"],"range":["#ff0000","#0000ff","#000000"]},"legend":{"orient":"none","legendX":771,"legendY":20,"title":null,"symbolType":"M-1.9,-1.4H6.2V1.4H-1.9Z","symbolSize":400,"symbolStrokeWidth":0,"labelFont":"Liberation Serif","labelFontSize":38,"labelColor":"#000","labelOffset":73,"labelLimit":400,"fillColor":"rgba(255,255,255,0.8)","strokeColor":"#e0e0e0","cornerRadius":6,"padding":14,"rowPadding":0.5}},"stroke":{"field":"k","type":"nominal","scale":{"domain":["warm","cold","collimators"],"range":["#ff0000","#0000ff","#000000"]},"legend":null}}},
{"data":{"values":[{"s":19813.6,"v":102},{"s":19797.7,"v":0.816}]},"mark":{"type":"line","color":"#65b9d6","strokeWidth":4,"clip":false},"encoding":{"x":{"field":"s","type":"quantitative","scale":{"domain":[19749.4,20590.6]}},"y":{"field":"v","type":"quantitative","scale":{"type":"log","domain":[1e-7,8.7]}}}},
{"data":{"values":[{"a":20298.4,"b":20530.9,"v":9.17e-4,"w":6.57e-5}]},"mark":{"type":"rect","fill":"white","stroke":"#65b9d6","strokeWidth":4},"encoding":{"x":{"field":"a","type":"quantitative","scale":{"domain":[19749.4,20590.6]}},"x2":{"field":"b"},"y":{"field":"v","type":"quantitative","scale":{"type":"log","domain":[1e-7,8.7]}},"y2":{"field":"w"}}},
{"data":{"values":[{"s":20414,"v":2.37e-4,"label":"DS clusters"}]},"mark":{"type":"text","font":"Liberation Sans","fontSize":48.5,"color":"#000","align":"center","baseline":"middle"},"encoding":{"x":{"field":"s","type":"quantitative","scale":{"domain":[19749.4,20590.6]}},"y":{"field":"v","type":"quantitative","scale":{"type":"log","domain":[1e-7,8.7]}},"text":{"field":"label"}}}
],"resolve":{"scale":{"color":"independent"}}}
]}
